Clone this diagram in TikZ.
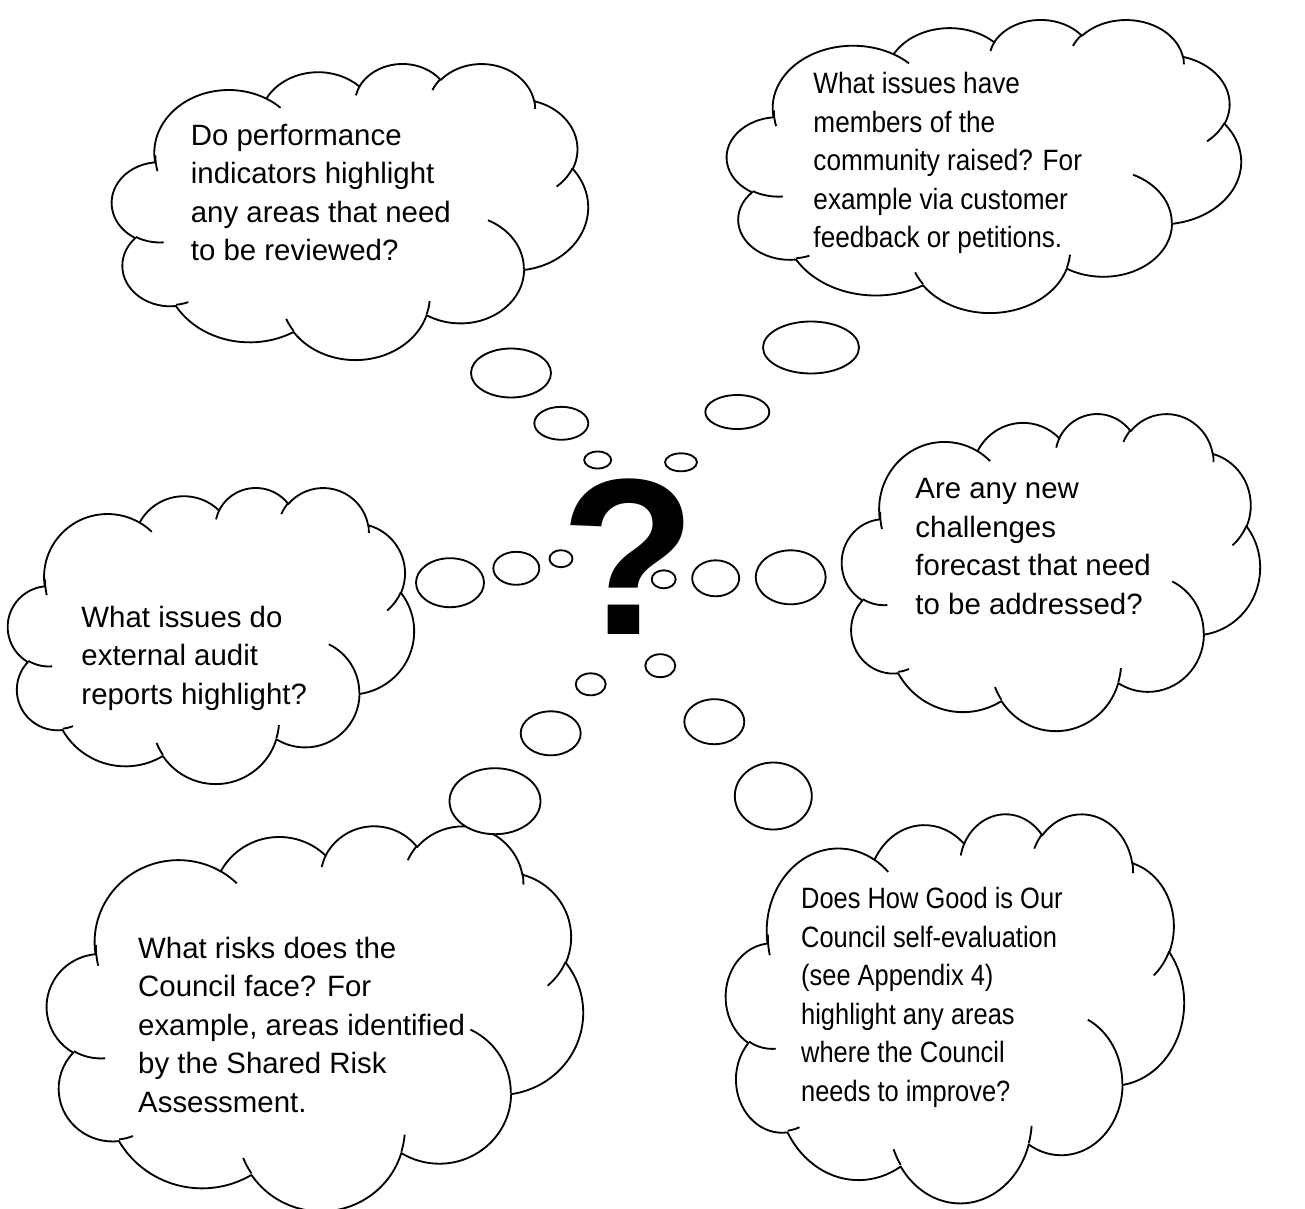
\documentclass[tikz,border=0pt]{standalone}
\usepackage{fontspec}
\setmainfont{Liberation Sans}
\newfontfamily\narrowa[FakeStretch=0.89]{Liberation Sans}
\newfontfamily\narrowb[FakeStretch=0.865]{Liberation Sans}
\usepackage{tikz}
\usetikzlibrary{shapes.geometric}

\newcommand{\px}{0.40816pt}
\newcommand{\thoughtfont}{\fontsize{12pt}{15.71pt}\selectfont}

\tikzstyle{cloudline} = [line width=0.75pt, line join=round, draw=black]
\tikzstyle{bubble} = [ellipse, draw=black, fill=white, line width=0.75pt, inner sep=0pt, outer sep=0pt]
\tikzstyle{thought} = [anchor=north west, inner sep=0pt, align=left, font=\thoughtfont]
\tikzstyle{bigmark} = [anchor=base, inner sep=0pt, font=\fontsize{91pt}{100pt}\selectfont\bfseries]

% angulos de la forma nube (grados visuales -> parametricos)
\pgfkeys{/pgf/foreach/ooangles/.style={
  evaluate=\sang as \tst using {atan2(\rx*sin(\sang),\ry*cos(\sang))},
  evaluate=\swing as \ten using {atan2(\rx*sin(\sang+\swing),\ry*cos(\sang+\swing))},
  evaluate=\ten as \tdel using {mod(\ten-\tst-\swing+540,360)-180+\swing}}}

% #1 nombre, #2 izquierda, #3 arriba, #4 ancho, #5 alto
\newcommand{\thoughtcloud}[5]{%
  \begin{scope}[shift={(#2,#3)}, xscale=#4/43.2, yscale=#5/43.2]
    \path[cloudline, fill=white] (3.9,14.37)
      \foreach \rx/\ry/\sang/\swing [ooangles] in {6.753/9.190/-190.4875/123.7805,
        5.333/7.267/-144.1024/89.9452, 4.365/5.945/-145.8079/99.7230,
        4.857/6.595/-130.9861/117.2417, 5.333/7.273/-78.7089/109.0269,
        6.775/9.220/-46.2673/130.2690, 5.785/7.867/0.6250/114.0333,
        6.752/9.215/22.4516/115.1726, 7.720/10.543/66.2426/75.7110,
        4.360/5.918/-274.9421/146.7356, 4.345/5.945/-246.8285/152.5189}
      {arc[x radius=\rx, y radius=\ry, start angle=\tst, delta angle=\tdel]} -- cycle;
    \foreach \mx/\my/\rx/\ry/\sang/\swing [ooangles] in {4.693/26.177/4.345/5.945/86.742/26.4295,
        6.928/34.899/4.360/5.918/73.6105/11.4475, 16.478/39.090/6.752/9.215/137.6242/14.0811,
        28.827/34.751/6.752/9.215/6.4533/15.9984, 34.129/22.954/5.785/7.867/-70.2924/70.9174,
        41.798/15.354/5.333/7.273/30.3180/27.7515, 38.324/5.426/4.857/6.595/-13.7443/14.8589,
        29.078/3.952/4.857/6.595/-149.1815/18.1954, 22.141/4.720/4.365/5.945/-163.4943/17.6864,
        14.000/5.192/6.753/9.190/-66.7070/12.3194, 4.127/15.789/6.753/9.190/162.0352/19.4241}
      {\draw[cloudline] (\mx,\my) arc[x radius=\rx, y radius=\ry, start angle=\tst, delta angle=\tdel];}
    \coordinate (#1) at (21.6,21.6);
  \end{scope}}

\begin{document}
\begin{tikzpicture}[x=\px, y=-\px]
\useasboundingbox (0,0) rectangle (1305,1209);

%==============================================
%Nubes
%==============================================
\thoughtcloud{c1}{112}{63}{476}{296}
\thoughtcloud{c2}{727}{19}{514}{293}
\thoughtcloud{c3}{842}{413}{418}{317}
\thoughtcloud{c4}{8}{487}{406}{296}
\thoughtcloud{c5}{47}{825}{536}{385}
\thoughtcloud{c6}{726}{813}{458}{389}

%Burbujas==============================================
\node (b1a) [bubble, minimum width=80*\px, minimum height=49*\px] at (511,373) {};
\node (b1b) [bubble, minimum width=54*\px, minimum height=33*\px] at (561.3,423.3) {};
\node (b1c) [bubble, minimum width=27*\px, minimum height=17*\px] at (597.7,460) {};

\node (b2a) [bubble, minimum width=96*\px, minimum height=52*\px] at (811,347.5) {};
\node (b2b) [bubble, minimum width=64*\px, minimum height=34*\px] at (737.3,412) {};
\node (b2c) [bubble, minimum width=32*\px, minimum height=18*\px] at (681,462.3) {};

\node (b3a) [bubble, minimum width=70*\px, minimum height=54*\px] at (790.7,577.3) {};
\node (b3b) [bubble, minimum width=47*\px, minimum height=36*\px] at (715.7,578.3) {};
\node (b3c) [bubble, minimum width=24*\px, minimum height=18*\px] at (663.7,579.3) {};

\node (b4a) [bubble, minimum width=68*\px, minimum height=49*\px] at (450,582.7) {};
\node (b4b) [bubble, minimum width=46*\px, minimum height=33*\px] at (516.3,568.3) {};
\node (b4c) [bubble, minimum width=23*\px, minimum height=17*\px] at (561,558.7) {};

\node (b5a) [bubble, minimum width=91*\px, minimum height=66*\px] at (495,801.2) {};
\node (b5b) [bubble, minimum width=60*\px, minimum height=44*\px] at (550.7,733.3) {};
\node (b5c) [bubble, minimum width=30*\px, minimum height=22*\px] at (590.7,684.3) {};

\node (b6a) [bubble, minimum width=77*\px, minimum height=67*\px] at (773.3,796) {};
\node (b6b) [bubble, minimum width=60*\px, minimum height=45*\px] at (714.3,721.7) {};
\node (b6c) [bubble, minimum width=30*\px, minimum height=23*\px] at (660.3,665.7) {};

%Preguntas==============================================
\node (q1) [thought] at (190.4,118.05) {\strut Do performance\\indicators highlight\\any areas that need\\to be reviewed?};
\node (q2) [thought, font=\thoughtfont\narrowa] at (813,66.35) {\strut What issues have\\members of the\\community raised? For\\example via customer\\feedback or petitions.};
\node (q3) [thought] at (915,471.35) {\strut Are any new\\challenges\\forecast that need\\to be addressed?};
\node (q4) [thought] at (81,599.75) {\strut What issues do\\external audit\\reports highlight?};
\node (q5) [thought] at (137.7,930.75) {\strut What risks does the\\Council face? For\\example, areas identified\\by the Shared Risk\\Assessment.};
\node (q6) [thought, font=\thoughtfont\narrowb] at (800.7,881.35) {\strut Does How Good is Our\\Council self-evaluation\\(see Appendix 4)\\highlight any areas\\where the Council\\needs to improve?};

%Centro==============================================
\node (qm) [bigmark] at (628.3,634) {?};
\end{tikzpicture}
\end{document}
